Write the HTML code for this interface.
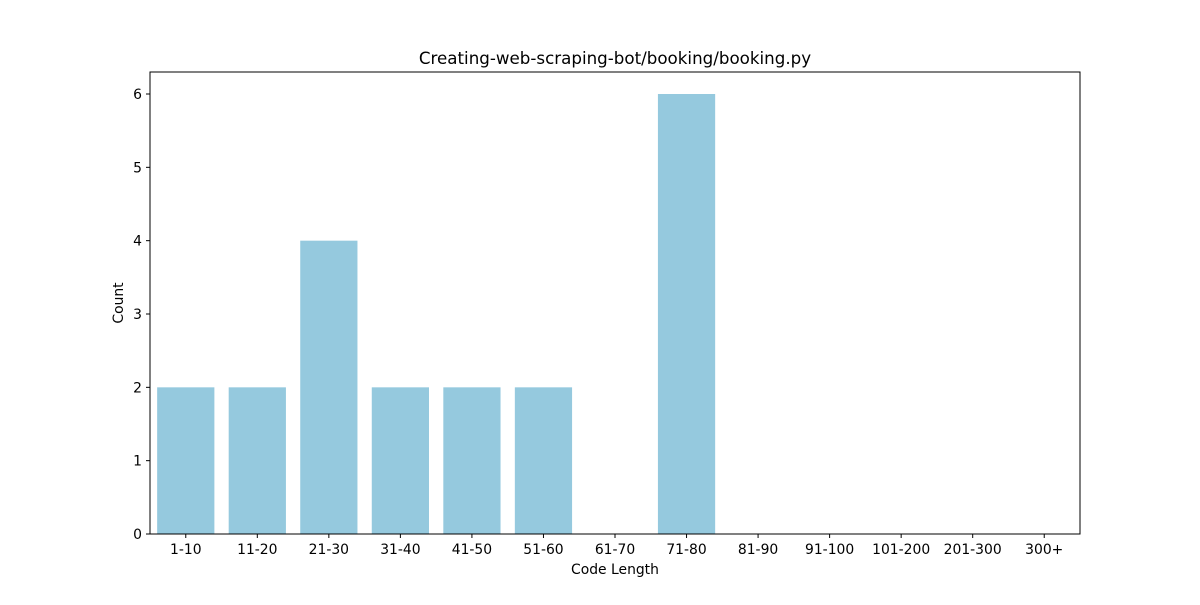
<!DOCTYPE html>
<html><head><meta charset="utf-8"><style>
body{margin:0;background:#fff;}
svg text{font-family:"DejaVu Sans","Liberation Sans",sans-serif;fill:#000;}
</style></head><body>
<svg id="chart" width="1200" height="600" xmlns="http://www.w3.org/2000/svg">
<rect width="1200" height="600" fill="#fff"/>
<text x="615" y="64" font-size="16.7" text-anchor="middle">Creating-web-scraping-bot/booking/booking.py</text>
<g id="bars"></g><g id="xt"></g><g id="yt"></g>
<rect x="150" y="72" width="930" height="462" fill="none" stroke="#000" stroke-width="1"/>
<text x="615" y="574" font-size="13.9" text-anchor="middle">Code Length</text>
<text x="0" y="0" font-size="13.9" text-anchor="middle" transform="translate(123,303) rotate(-90)">Count</text>
</svg>
<script>
const categories=["1-10","11-20","21-30","31-40","41-50","51-60","61-70","71-80","81-90","91-100","101-200","201-300","300+"];
const counts=[2,2,4,2,2,2,0,6,0,0,0,0,0];
const yTicks=[0,1,2,3,4,5,6];
const L=150,R=1080,T=72,B=534,yMax=6.3;
const ns="http://www.w3.org/2000/svg";
const band=(R-L)/categories.length;
const x=i=>L+band*(i+0.5);
const y=v=>B-(v/yMax)*(B-T);
function mk(t,a,p){const e=document.createElementNS(ns,t);for(const k in a)e.setAttribute(k,a[k]);p.appendChild(e);return e;}
const bars=document.getElementById('bars'),xt=document.getElementById('xt'),yt=document.getElementById('yt');
categories.forEach((c,i)=>{
  const v=counts[i];
  const r=mk('rect',{x:x(i)-band*0.4,y:y(v),width:band*0.8,height:B-y(v),fill:'#95c9de'},bars);
  
  
  mk('line',{x1:x(i),x2:x(i),y1:B,y2:B+4,stroke:'#000'},xt);
  const t=mk('text',{x:x(i),y:B+20,'font-size':13.9,'text-anchor':'middle'},xt);
  t.textContent=c;
  
  
});
yTicks.forEach(v=>{
  mk('line',{x1:L-4,x2:L,y1:y(v),y2:y(v),stroke:'#000'},yt);
  const t=mk('text',{x:L-8,y:y(v)+5,'font-size':13.9,'text-anchor':'end'},yt);
  t.textContent=v;
  
  
});
</script>
</body></html>
